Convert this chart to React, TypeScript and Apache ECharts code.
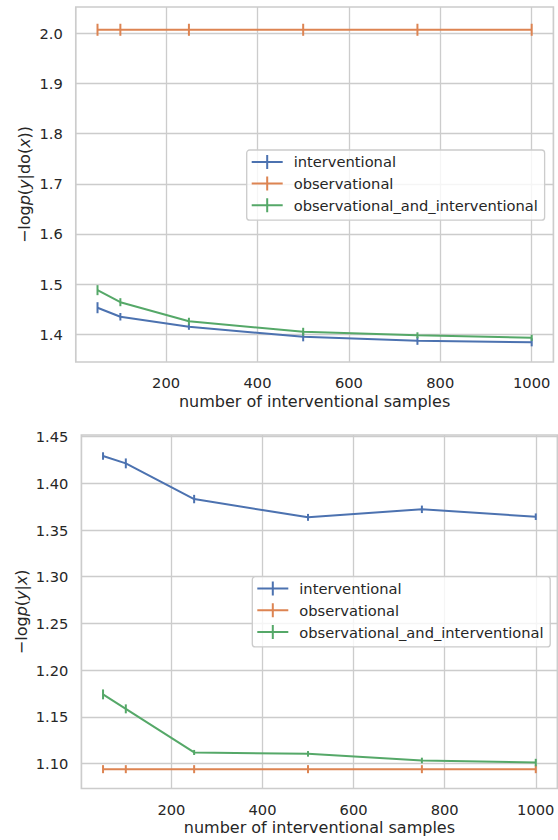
import React, { useEffect, useRef } from "react";
import * as echarts from "echarts";

const W = 558;
const H = 840;

const FONT = "DejaVu Sans";
const TEXT = "#262626";
const GRIDC = "#cccccc";
const BLUE = "#4c72b0";
const ORANGE = "#dd8452";
const GREEN = "#55a868";

// ----- data -----
const seriesNames = ["interventional", "observational", "observational_and_interventional"];
const xValues = [50, 100, 250, 500, 750, 1000];

// top panel: -log p(y|do(x))
const intTop = [1.453, 1.435, 1.415, 1.395, 1.387, 1.384];
const intTopErr = [0.011, 0.0075, 0.006, 0.009, 0.008, 0.008];
const obsTop = [2.007, 2.007, 2.007, 2.007, 2.007, 2.007];
const obsTopErr = [0.012, 0.012, 0.012, 0.012, 0.012, 0.012];
const obsIntTop = [1.488, 1.464, 1.426, 1.405, 1.398, 1.393];
const obsIntTopErr = [0.01, 0.008, 0.007, 0.008, 0.006, 0.006];

// bottom panel: -log p(y|x)
const intBot = [1.4293, 1.4214, 1.3832, 1.3636, 1.3722, 1.3643];
const intBotErr = [0.004, 0.0053, 0.0045, 0.0037, 0.004, 0.0035];
const obsBot = [1.0939, 1.0939, 1.0939, 1.0939, 1.0939, 1.0939];
const obsBotErr = [0.0043, 0.0043, 0.0043, 0.0043, 0.0043, 0.0043];
const obsIntBot = [1.174, 1.1585, 1.1118, 1.1103, 1.1032, 1.101];
const obsIntBotErr = [0.0053, 0.0048, 0.0027, 0.003, 0.003, 0.004];

// tick labels
const xTicks = [200, 400, 600, 800, 1000];
const yTicksTop = [1.4, 1.5, 1.6, 1.7, 1.8, 1.9, 2.0];
const yTicksBot = [1.1, 1.15, 1.2, 1.25, 1.3, 1.35, 1.4, 1.45];

const xLabel = "number of interventional samples";
const yLabelTop = "{r|−log}{i|p}{r|(}{i|y}{r||do(}{i|x}{r|))}";
const yLabelBot = "{r|−log}{i|p}{r|(}{i|y}{r||}{i|x}{r|)}";

const colors = [BLUE, ORANGE, GREEN];
const ICON = "path://M0,6h31v2H0z M14.5,0h2v14h-2z";

function lineAndErr(
  name: string,
  color: string,
  vals: number[],
  errs: number[],
  axisIdx: number
) {
  return [
    {
      type: "line",
      name,
      xAxisIndex: axisIdx,
      yAxisIndex: axisIdx,
      data: xValues.map((x, i) => [x, vals[i]]),
      showSymbol: false,
      symbol: "none",
      lineStyle: { color, width: 2 },
      itemStyle: { color },
      z: 3,
    },
    {
      type: "custom",
      name,
      xAxisIndex: axisIdx,
      yAxisIndex: axisIdx,
      coordinateSystem: "cartesian2d",
      data: xValues.map((x, i) => [x, vals[i] - errs[i], vals[i] + errs[i]]),
      encode: { x: 0, y: [1, 2] },
      itemStyle: { color },
      z: 3,
      renderItem: (params: any, api: any) => {
        const x = api.value(0);
        const p1 = api.coord([x, api.value(1)]);
        const p2 = api.coord([x, api.value(2)]);
        return {
          type: "line",
          shape: { x1: p1[0], y1: p1[1], x2: p2[0], y2: p2[1] },
          style: { stroke: color, lineWidth: 2 },
        };
      },
    },
  ];
}

function xAxisCfg(gridIndex: number, gap: number) {
  return {
    type: "value",
    gridIndex,
    min: 2.5,
    max: 1047.5,
    axisLine: { show: false },
    axisTick: { show: false, customValues: xTicks },
    axisLabel: {
      customValues: xTicks,
      color: TEXT,
      fontFamily: FONT,
      fontSize: 14.67,
      margin: 13,
      formatter: (v: number) => String(v),
    },
    splitLine: { show: true, lineStyle: { color: GRIDC, width: 1.33 } },
    name: xLabel,
    nameLocation: "middle",
    nameGap: gap,
    nameMoveOverlap: false,
    nameTextStyle: { color: TEXT, fontFamily: FONT, fontSize: 16, lineHeight: 16 },
  };
}

function yAxisCfg(
  gridIndex: number,
  min: number,
  max: number,
  ticks: number[],
  digits: number,
  name: string,
  gap: number
) {
  const base = { fontFamily: FONT, fontSize: 16, color: TEXT, lineHeight: 16 };
  return {
    type: "value",
    gridIndex,
    min,
    max,
    axisLine: { show: false },
    axisTick: { show: false, customValues: ticks },
    axisLabel: {
      customValues: ticks,
      color: TEXT,
      fontFamily: FONT,
      fontSize: 14.67,
      margin: 13,
      formatter: (v: number) => v.toFixed(digits),
    },
    splitLine: { show: true, lineStyle: { color: GRIDC, width: 1.33 } },
    name,
    nameLocation: "middle",
    nameRotate: 90,
    nameGap: gap,
    nameMoveOverlap: false,
    nameTextStyle: {
      rich: {
        r: { ...base },
        i: { ...base, fontStyle: "italic" },
      },
    },
  };
}

function legendCfg(left: number, top: number) {
  return {
    orient: "vertical",
    left,
    top,
    data: seriesNames.map((n) => ({ name: n, icon: ICON })),
    itemWidth: 31,
    itemHeight: 14,
    itemGap: 6.7,
    padding: [4.4, 6.7, 7.4, 5],
    itemStyle: { borderWidth: 0 },
    textStyle: {
      color: TEXT,
      fontFamily: FONT,
      fontSize: 14.67,
      lineHeight: 15,
      padding: [0, 0, 0, 6],
    },
    backgroundColor: "rgba(255,255,255,0.8)",
    borderColor: GRIDC,
    borderWidth: 1.33,
    borderRadius: 3,
  };
}

const option: any = {
  animation: false,
  backgroundColor: "#ffffff",
  textStyle: { fontFamily: FONT },
  grid: [
    {
      left: 75.8,
      top: 7,
      width: 477.6,
      height: 355,
      show: true,
      borderColor: GRIDC,
      borderWidth: 1.67,
      backgroundColor: "transparent",
    },
    {
      left: 81.4,
      top: 435,
      width: 476,
      height: 353.5,
      show: true,
      borderColor: GRIDC,
      borderWidth: 1.67,
      backgroundColor: "transparent",
    },
  ],
  xAxis: [xAxisCfg(0, 31), xAxisCfg(1, 31)],
  yAxis: [
    yAxisCfg(0, 1.3448, 2.0524, yTicksTop, 1, yLabelTop, 43),
    yAxisCfg(1, 1.0732, 1.4518, yTicksBot, 2, yLabelBot, 51.5),
  ],
  legend: [legendCfg(246.7, 150), legendCfg(252.3, 576.7)],
  series: [
    ...lineAndErr(seriesNames[0], colors[0], intTop, intTopErr, 0),
    ...lineAndErr(seriesNames[1], colors[1], obsTop, obsTopErr, 0),
    ...lineAndErr(seriesNames[2], colors[2], obsIntTop, obsIntTopErr, 0),
    ...lineAndErr(seriesNames[0], colors[0], intBot, intBotErr, 1),
    ...lineAndErr(seriesNames[1], colors[1], obsBot, obsBotErr, 1),
    ...lineAndErr(seriesNames[2], colors[2], obsIntBot, obsIntBotErr, 1),
  ],
};

export default function App() {
  const ref = useRef<HTMLDivElement>(null);
  useEffect(() => {
    if (!ref.current) return;
    const chart = echarts.init(ref.current, null, { renderer: "svg", width: W, height: H });
    chart.setOption(option);
    return () => chart.dispose();
  }, []);
  return (
    <div
      ref={ref}
      style={{ position: "absolute", left: 0, top: 0, width: W, height: H, background: "#fff" }}
    />
  );
}
